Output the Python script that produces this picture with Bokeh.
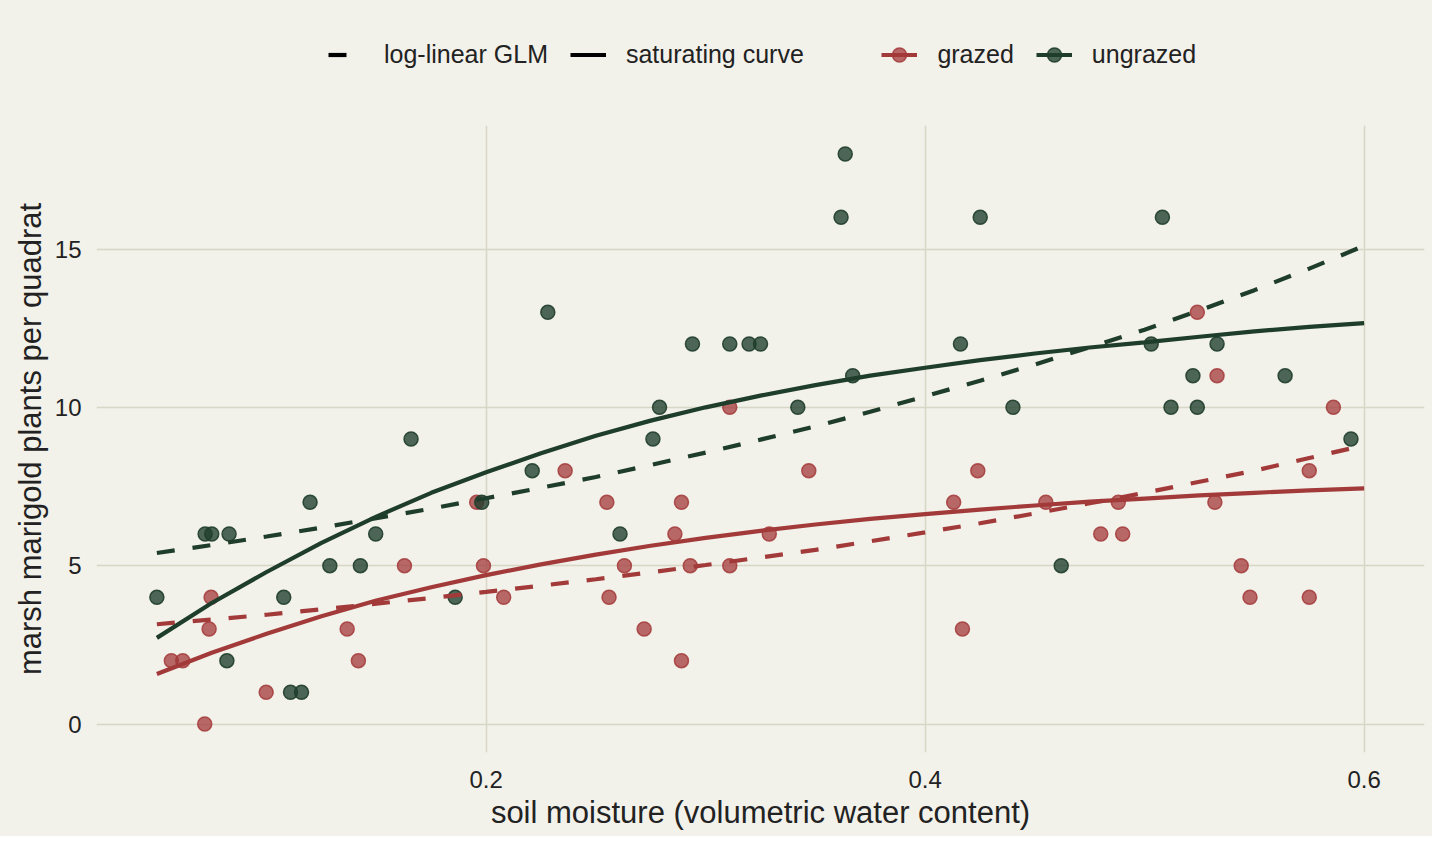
import numpy as np
from bokeh.plotting import figure
from bokeh.layouts import column
from bokeh.models import ColumnDataSource, Legend, LegendItem, Range1d, FixedTicker
from bokeh.embed import file_html
from bokeh.resources import INLINE

grazed_moisture = [0.0566, 0.0618, 0.0718, 0.0738, 0.0747, 0.0998, 0.1367, 0.1418, 0.1628, 0.1957,
                   0.1988, 0.208, 0.236, 0.255, 0.256, 0.263, 0.272, 0.286, 0.289, 0.289,
                   0.293, 0.311, 0.311, 0.329, 0.347, 0.413, 0.417, 0.424, 0.455, 0.48,
                   0.488, 0.49, 0.524, 0.532, 0.533, 0.544, 0.548, 0.575, 0.575, 0.586]
grazed_count = [2, 2, 0, 3, 4, 1, 3, 2, 5, 7,
                5, 4, 8, 7, 4, 5, 3, 6, 7, 2,
                5, 10, 5, 6, 8, 7, 3, 8, 7, 6,
                7, 6, 13, 7, 11, 5, 4, 8, 4, 10]
ungrazed_moisture = [0.05, 0.072, 0.075, 0.0829, 0.0819, 0.1078, 0.1109, 0.1159, 0.1198, 0.1288,
                     0.1427, 0.1497, 0.1658, 0.1859, 0.198, 0.221, 0.2281, 0.261, 0.276, 0.279,
                     0.294, 0.311, 0.3198, 0.325, 0.342, 0.3617, 0.3636, 0.367, 0.4161, 0.4251,
                     0.44, 0.462, 0.503, 0.5081, 0.512, 0.522, 0.524, 0.533, 0.564, 0.594]
ungrazed_count = [4, 6, 6, 6, 2, 4, 1, 1, 7, 5,
                  5, 6, 9, 4, 7, 8, 13, 6, 9, 10,
                  12, 12, 12, 12, 10, 16, 18, 11, 12, 16,
                  10, 5, 12, 16, 10, 11, 10, 12, 11, 9]

# fitted curves, read every 0.025 of moisture
curve_moisture = [0.05, 0.075, 0.1, 0.125, 0.15, 0.175, 0.2, 0.225, 0.25, 0.275, 0.3, 0.325,
                  0.35, 0.375, 0.4, 0.425, 0.45, 0.475, 0.5, 0.525, 0.55, 0.575, 0.6]
grazed_glm = [3.15, 3.3, 3.45, 3.62, 3.8, 3.98, 4.17, 4.37, 4.57, 4.79, 5.02, 5.26,
              5.5, 5.77, 6.05, 6.34, 6.65, 6.97, 7.3, 7.65, 8.0, 8.4, 8.8]
ungrazed_glm = [5.4, 5.65, 5.92, 6.2, 6.5, 6.8, 7.13, 7.46, 7.8, 8.18, 8.57, 8.98,
                9.4, 9.86, 10.35, 10.84, 11.35, 11.9, 12.45, 13.06, 13.7, 14.38, 15.1]
grazed_sat = [1.58, 2.25, 2.85, 3.4, 3.9, 4.32, 4.7, 5.04, 5.35, 5.63, 5.88, 6.1,
              6.3, 6.48, 6.63, 6.77, 6.9, 7.02, 7.12, 7.22, 7.3, 7.38, 7.44]
ungrazed_sat = [2.72, 3.82, 4.8, 5.72, 6.55, 7.3, 7.95, 8.55, 9.1, 9.58, 10.0, 10.37,
                10.7, 11.0, 11.25, 11.49, 11.7, 11.89, 12.05, 12.23, 12.4, 12.54, 12.66]

x_ticks = [0.2, 0.4, 0.6]
y_ticks = [0, 5, 10, 15]

BG = "#f2f1ea"
GRID = "#d8d7c6"
TEXT = "#222222"
RED = "#a33a3a"
GREEN = "#1f3d2b"
FONT = "Liberation Sans"
LW = 4.2
DASH = "18 18"

pts_g = ColumnDataSource(data=dict(x=grazed_moisture, y=grazed_count))
pts_u = ColumnDataSource(data=dict(x=ungrazed_moisture, y=ungrazed_count))
curves = ColumnDataSource(data=dict(x=curve_moisture, g_glm=grazed_glm, u_glm=ungrazed_glm,
                                    g_sat=grazed_sat, u_sat=ungrazed_sat))

point_style = dict(size=14, marker="circle", line_width=1.5)


def add_marks(fig, with_keys):
    g = fig.scatter('x', 'y', source=pts_g, fill_color=RED, fill_alpha=0.75,
                    line_color=RED, line_alpha=0.85, **point_style)
    u = fig.scatter('x', 'y', source=pts_u, fill_color=GREEN, fill_alpha=0.78,
                    line_color=GREEN, line_alpha=0.9, **point_style)
    keys = None
    if with_keys:
        # black line-type keys
        keys = (fig.line('x', 'u_glm', source=curves, line_color="black", line_width=LW, line_dash=DASH),
                fig.line('x', 'u_sat', source=curves, line_color="black", line_width=LW))
    fig.line('x', 'g_glm', source=curves, line_color=RED, line_width=LW, line_dash=DASH)
    fig.line('x', 'u_glm', source=curves, line_color=GREEN, line_width=LW, line_dash=DASH)
    gs = fig.line('x', 'g_sat', source=curves, line_color=RED, line_width=LW)
    us = fig.line('x', 'u_sat', source=curves, line_color=GREEN, line_width=LW)
    return g, u, gs, us, keys


# main chart
p = figure(width=1432, height=736, output_backend="svg", toolbar_location=None, title=None,
           x_range=Range1d(0.0225, 0.6275), y_range=Range1d(-0.9, 18.9),
           min_border_left=96, min_border_right=8, min_border_top=25, min_border_bottom=84,
           background_fill_color=BG, border_fill_color=BG, outline_line_color=None)
add_marks(p, with_keys=False)

for ax in (p.xaxis[0], p.yaxis[0]):
    ax.axis_line_color = None
    ax.major_tick_line_color = None
    ax.minor_tick_line_color = None
    ax.major_tick_out = 0
    ax.major_label_text_font = FONT
    ax.major_label_text_font_size = "24px"
    ax.major_label_text_color = TEXT
    ax.axis_label_text_font = FONT
    ax.axis_label_text_font_size = "31px"
    ax.axis_label_text_font_style = "normal"
    ax.axis_label_text_color = TEXT

p.xaxis.ticker = FixedTicker(ticks=x_ticks)
p.yaxis.ticker = FixedTicker(ticks=y_ticks)
p.xaxis.axis_label = "soil moisture (volumetric water content)"
p.yaxis.axis_label = "marsh marigold plants per quadrat"
p.xaxis.major_label_standoff = 18
p.yaxis.major_label_standoff = 15
p.xaxis.axis_label_standoff = 4
p.yaxis.axis_label_standoff = 4

p.xgrid.ticker = FixedTicker(ticks=x_ticks)
p.ygrid.ticker = FixedTicker(ticks=y_ticks)
p.grid.grid_line_color = GRID
p.grid.grid_line_width = 1.5

# legend strip: same marks, but its range shows none of them, only the legend
leg = figure(width=1432, height=100, output_backend="svg", toolbar_location=None, title=None,
             x_range=Range1d(0, 1), y_range=Range1d(-100, -99), min_border=0,
             background_fill_color=BG, border_fill_color=BG, outline_line_color=None)
leg.axis.visible = False
leg.grid.visible = False
g_pts, u_pts, g_sat, u_sat, (key_glm, key_sat) = add_marks(leg, with_keys=True)

# the column lines the frames up, so x is measured from the main frame's left edge
legend = Legend(items=[
    LegendItem(label="log-linear GLM", renderers=[key_glm]),
    LegendItem(label="saturating curve        ", renderers=[key_sat]),
    LegendItem(label="grazed", renderers=[g_sat, g_pts]),
    LegendItem(label="ungrazed", renderers=[u_sat, u_pts]),
], orientation="horizontal", location=(232, 28))
legend.label_text_font = FONT
legend.label_text_font_size = "25px"
legend.label_text_color = TEXT
legend.glyph_width = 36
legend.glyph_height = 35
legend.label_standoff = 20
legend.spacing = 22
legend.padding = 0
legend.margin = 0
legend.background_fill_alpha = 0
legend.border_line_alpha = 0
leg.add_layout(legend, "center")

page = column(leg, p, spacing=0, styles={"background-color": BG})
open("out.html", "w").write(file_html(page, INLINE))
